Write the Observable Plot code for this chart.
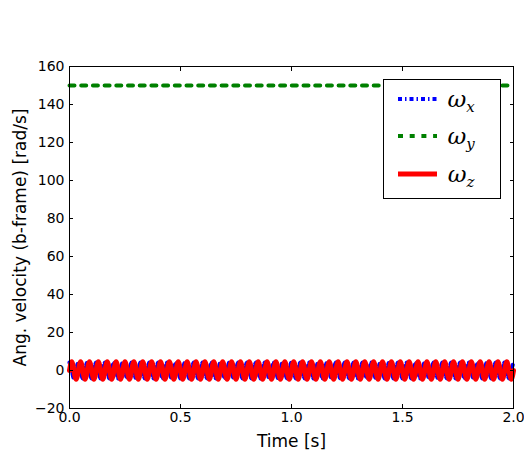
<!DOCTYPE html>
<html><head><meta charset="utf-8">
<script src="https://cdn.jsdelivr.net/npm/d3@7"></script>
<script src="https://cdn.jsdelivr.net/npm/@observablehq/plot@0.6"></script>
<style>body{margin:0;background:#fff}#chart{width:524px;height:453px}</style>
</head><body><div id="chart"></div>
<script>
// Time samples [s] (quarter-period samples of the body-frame nutation)
const time = [
0,0.01,0.02,0.03,0.04,0.05,0.06,0.07,0.08,0.09,
0.1,0.11,0.12,0.13,0.14,0.15,0.16,0.17,0.18,0.19,
0.2,0.21,0.22,0.23,0.24,0.25,0.26,0.27,0.28,0.29,
0.3,0.31,0.32,0.33,0.34,0.35,0.36,0.37,0.38,0.39,
0.4,0.41,0.42,0.43,0.44,0.45,0.46,0.47,0.48,0.49,
0.5,0.51,0.52,0.53,0.54,0.55,0.56,0.57,0.58,0.59,
0.6,0.61,0.62,0.63,0.64,0.65,0.66,0.67,0.68,0.69,
0.7,0.71,0.72,0.73,0.74,0.75,0.76,0.77,0.78,0.79,
0.8,0.81,0.82,0.83,0.84,0.85,0.86,0.87,0.88,0.89,
0.9,0.91,0.92,0.93,0.94,0.95,0.96,0.97,0.98,0.99,
1,1.01,1.02,1.03,1.04,1.05,1.06,1.07,1.08,1.09,
1.1,1.11,1.12,1.13,1.14,1.15,1.16,1.17,1.18,1.19,
1.2,1.21,1.22,1.23,1.24,1.25,1.26,1.27,1.28,1.29,
1.3,1.31,1.32,1.33,1.34,1.35,1.36,1.37,1.38,1.39,
1.4,1.41,1.42,1.43,1.44,1.45,1.46,1.47,1.48,1.49,
1.5,1.51,1.52,1.53,1.54,1.55,1.56,1.57,1.58,1.59,
1.6,1.61,1.62,1.63,1.64,1.65,1.66,1.67,1.68,1.69,
1.7,1.71,1.72,1.73,1.74,1.75,1.76,1.77,1.78,1.79,
1.8,1.81,1.82,1.83,1.84,1.85,1.86,1.87,1.88,1.89,
1.9,1.91,1.92,1.93,1.94,1.95,1.96,1.97,1.98,1.99,
2];
// ω_x [rad/s]
const omegaX = [
4.2,0,-4.2,0,4.2,0,-4.2,0,4.2,0,-4.2,0,4.2,0,-4.2,0,4.2,0,-4.2,0,
4.2,0,-4.2,0,4.2,0,-4.2,0,4.2,0,-4.2,0,4.2,0,-4.2,0,4.2,0,-4.2,0,
4.2,0,-4.2,0,4.2,0,-4.2,0,4.2,0,-4.2,0,4.2,0,-4.2,0,4.2,0,-4.2,0,
4.2,0,-4.2,0,4.2,0,-4.2,0,4.2,0,-4.2,0,4.2,0,-4.2,0,4.2,0,-4.2,0,
4.2,0,-4.2,0,4.2,0,-4.2,0,4.2,0,-4.2,0,4.2,0,-4.2,0,4.2,0,-4.2,0,
4.2,0,-4.2,0,4.2,0,-4.2,0,4.2,0,-4.2,0,4.2,0,-4.2,0,4.2,0,-4.2,0,
4.2,0,-4.2,0,4.2,0,-4.2,0,4.2,0,-4.2,0,4.2,0,-4.2,0,4.2,0,-4.2,0,
4.2,0,-4.2,0,4.2,0,-4.2,0,4.2,0,-4.2,0,4.2,0,-4.2,0,4.2,0,-4.2,0,
4.2,0,-4.2,0,4.2,0,-4.2,0,4.2,0,-4.2,0,4.2,0,-4.2,0,4.2,0,-4.2,0,
4.2,0,-4.2,0,4.2,0,-4.2,0,4.2,0,-4.2,0,4.2,0,-4.2,0,4.2,0,-4.2,0,
4.2];
// ω_z [rad/s]
const omegaZ = [
0,4.6,0,-4.6,0,4.6,0,-4.6,0,4.6,0,-4.6,0,4.6,0,-4.6,0,4.6,0,-4.6,
0,4.6,0,-4.6,0,4.6,0,-4.6,0,4.6,0,-4.6,0,4.6,0,-4.6,0,4.6,0,-4.6,
0,4.6,0,-4.6,0,4.6,0,-4.6,0,4.6,0,-4.6,0,4.6,0,-4.6,0,4.6,0,-4.6,
0,4.6,0,-4.6,0,4.6,0,-4.6,0,4.6,0,-4.6,0,4.6,0,-4.6,0,4.6,0,-4.6,
0,4.6,0,-4.6,0,4.6,0,-4.6,0,4.6,0,-4.6,0,4.6,0,-4.6,0,4.6,0,-4.6,
0,4.6,0,-4.6,0,4.6,0,-4.6,0,4.6,0,-4.6,0,4.6,0,-4.6,0,4.6,0,-4.6,
0,4.6,0,-4.6,0,4.6,0,-4.6,0,4.6,0,-4.6,0,4.6,0,-4.6,0,4.6,0,-4.6,
0,4.6,0,-4.6,0,4.6,0,-4.6,0,4.6,0,-4.6,0,4.6,0,-4.6,0,4.6,0,-4.6,
0,4.6,0,-4.6,0,4.6,0,-4.6,0,4.6,0,-4.6,0,4.6,0,-4.6,0,4.6,0,-4.6,
0,4.6,0,-4.6,0,4.6,0,-4.6,0,4.6,0,-4.6,0,4.6,0,-4.6,0,4.6,0,-4.6,
0];
// ω_y [rad/s] (constant spin)
const timeY = [0, 2];
const omegaY = [150, 150];

const xTicks = [0, 0.5, 1, 1.5, 2];
const yTicks = [-20, 0, 20, 40, 60, 80, 100, 120, 140, 160];
const xLabel = "Time [s]";
const yLabel = "Ang. velocity (b-frame) [rad/s]";
const seriesSub = ["x", "y", "z"];
const seriesColor = ["#0000ff", "#008000", "#ff0000"];
const seriesDash = ["4,3,1.5,3", "5,6.7", null];

const dX = time.map((t, i) => ({t, v: omegaX[i]}));
const dY = timeY.map((t, i) => ({t, v: omegaY[i]}));
const dZ = time.map((t, i) => ({t, v: omegaZ[i]}));
const fmtY = d => d < 0 ? "\u2212" + Math.abs(d) : String(d);

const plot = Plot.plot({
  width: 524, height: 453,
  marginLeft: 69, marginRight: 11, marginTop: 66, marginBottom: 45,
  style: {fontFamily: "DejaVu Sans", fontSize: "14px", background: "white", color: "black"},
  x: {domain: [0, 2]},
  y: {domain: [-20, 160]},
  marks: [
    Plot.line(dX, {x: "t", y: "v", stroke: seriesColor[0], strokeWidth: 4, strokeDasharray: seriesDash[0], curve: "natural"}),
    Plot.line(dY, {x: "t", y: "v", stroke: seriesColor[1], strokeWidth: 4, strokeDasharray: seriesDash[1]}),
    Plot.line(dZ, {x: "t", y: "v", stroke: seriesColor[2], strokeWidth: 5, curve: "natural"}),
    Plot.frame({stroke: "black", strokeWidth: 1}),
    Plot.axisX(xTicks, {anchor: "bottom", tickSize: -4, tickFormat: () => "", label: null}),
    Plot.axisX(xTicks, {anchor: "top", tickSize: -4, tickFormat: () => "", label: null}),
    Plot.axisY(yTicks, {anchor: "left", tickSize: -4, tickFormat: () => "", label: null}),
    Plot.axisY(yTicks, {anchor: "right", tickSize: -4, tickFormat: () => "", label: null}),
    Plot.axisX(xTicks, {anchor: "bottom", tickSize: 0, tickPadding: 4, tickFormat: d => d.toFixed(1), label: null}),
    Plot.axisY(yTicks, {anchor: "left", tickSize: 0, tickPadding: 5, tickFormat: fmtY, label: null}),
    Plot.text([xLabel], {frameAnchor: "bottom", dy: 33, lineAnchor: "middle", textAnchor: "middle", fontSize: 17}),
    Plot.text([yLabel], {frameAnchor: "left", dx: -49, rotate: -90, lineAnchor: "middle", textAnchor: "middle", fontSize: 17})
  ]
});
document.getElementById("chart").appendChild(plot);

// Legend box
const svg = d3.select(plot);
const lg = svg.append("g");
lg.append("rect").attr("x", 383.5).attr("y", 79.5).attr("width", 117).attr("height", 119)
  .attr("fill", "white").attr("stroke", "black").attr("stroke-width", 1);
const rowY = [99, 136, 174];
seriesSub.forEach((s, i) => {
  const ln = lg.append("line").attr("x1", 398).attr("x2", 437).attr("y1", rowY[i]).attr("y2", rowY[i])
    .attr("stroke", seriesColor[i]).attr("stroke-width", i === 2 ? 5 : 4);
  if (seriesDash[i]) ln.attr("stroke-dasharray", seriesDash[i]);
  const tx = lg.append("text").attr("x", 461).attr("y", rowY[i] + 8)
    .attr("font-family", "DejaVu Serif").attr("font-style", "italic").attr("font-size", 23).attr("fill", "black");
  tx.append("tspan").text("ω");
  tx.append("tspan").attr("font-size", 15).attr("dy", 5).text(s);
});
</script>
</body></html>
